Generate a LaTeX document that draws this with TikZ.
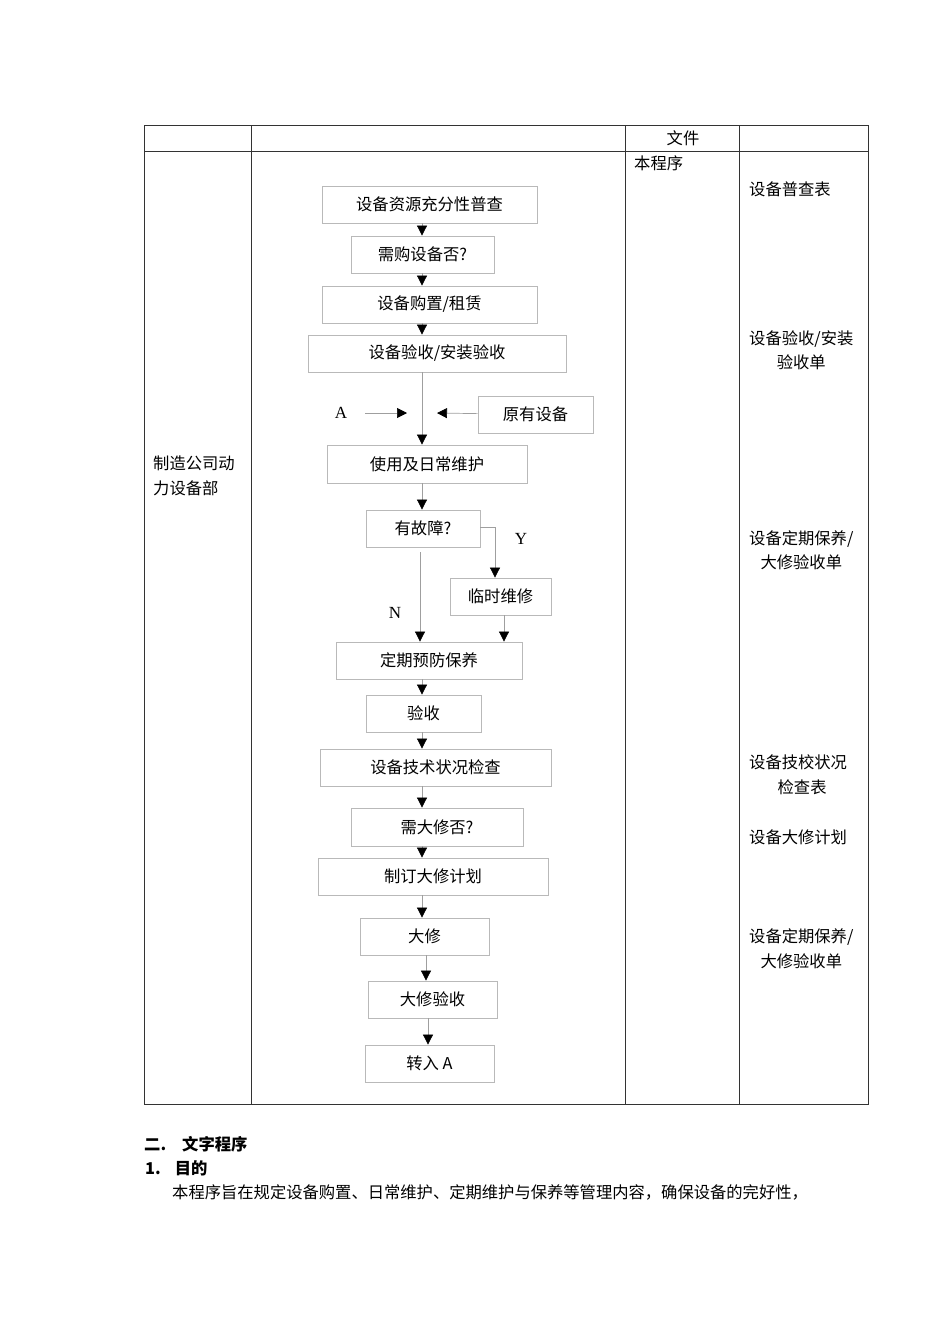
\documentclass[tikz,border=0pt]{standalone}
\usepackage{fontspec}
\setmainfont{Liberation Serif}
\newfontfamily\cjk{Noto Sans CJK SC}
\usetikzlibrary{arrows.meta}

\begin{document}
\begin{tikzpicture}[x=1pt,y=-1pt,
    box/.style={draw=gray!55, line width=0.8pt, inner sep=0pt, minimum height=37pt,
        font=\cjk\fontsize{16.3}{19}\selectfont},
    flow/.style={draw=gray!75, line width=0.7pt, -{Triangle[length=10pt,width=10pt,color=black]}},
    cell/.style={inner sep=0pt, font=\cjk\fontsize{16.3}{24.5}\selectfont},
    lbl/.style={inner sep=0pt, font=\fontsize{17}{19}\selectfont},
    rule/.style={draw=black!80, line width=0.9pt}]
    \useasboundingbox (0,0) rectangle (950,1344);

    % table
    \draw[rule] (144,125) rectangle (868,1104);
    \draw[rule] (144,151) -- (868,151);
    \foreach \x in {251,625,739}
        \draw[rule] (\x,125) -- (\x,1104);

    \node[cell] (hdr) at (683,138) {文件};
    \node[cell, anchor=west] (prog) at (634,163) {本程序};
    \node[cell, anchor=west, align=left] (dept) at (153,476) {制造公司动\\力设备部};

    \node[cell, anchor=west] (doc1) at (749,189) {设备普查表};
    \node[cell, anchor=west, align=center] (doc2) at (749,350.5) {设备验收/安装\\验收单};
    \node[cell, anchor=west, align=center] (doc3) at (749,550) {设备定期保养/\\大修验收单};
    \node[cell, anchor=west, align=center] (doc4) at (749,774.5) {设备技校状况\\\hspace{8pt}检查表};
    \node[cell, anchor=west] (doc5) at (749,837) {设备大修计划};
    \node[cell, anchor=west, align=center] (doc6) at (749,948.5) {设备定期保养/\\大修验收单};

    % flow boxes
    \node[box, minimum width=215pt] (b1) at (429.5,204.5) {设备资源充分性普查};
    \node[box, minimum width=143pt] (b2) at (422.5,254.5) {需购设备否?};
    \node[box, minimum width=215pt] (b3) at (429.5,304.5) {设备购置/租赁};
    \node[box, minimum width=258pt] (b4) at (437,353.5) {设备验收/安装验收};
    \node[box, minimum width=115pt] (old) at (535.5,414.5) {原有设备};
    \node[box, minimum width=200pt, minimum height=38pt] (b5) at (427,464) {使用及日常维护};
    \node[box, minimum width=114pt] (b6) at (423,528.5) {有故障?};
    \node[box, minimum width=101pt] (b7) at (500.5,596.5) {临时维修};
    \node[box, minimum width=186pt] (b8) at (429,660.5) {定期预防保养};
    \node[box, minimum width=115pt] (b9) at (423.5,713.5) {验收};
    \node[box, minimum width=231pt] (b10) at (435.5,767.5) {设备技术状况检查};
    \node[box, minimum width=172pt, minimum height=38pt] (b11) at (437,827) {需大修否?};
    \node[box, minimum width=230pt] (b12) at (433,876.5) {制订大修计划};
    \node[box, minimum width=129pt] (b13) at (424.5,936.5) {大修};
    \node[box, minimum width=129pt] (b14) at (432.5,999.5) {大修验收};
    \node[box, minimum width=129pt] (b15) at (429.5,1063.5) {{\cjk 转入} A};

    \node[lbl] (lblA) at (341,413) {A};
    \node[lbl] (lblY) at (521,539) {Y};
    \node[lbl] (lblN) at (395,613) {N};

    % connectors
    \coordinate (axis) at (422,0);
    \coordinate (axisB) at (426,0);
    \coordinate (axisC) at (428,0);
    \coordinate (yx) at (495,0);
    \coordinate (nx) at (420,0);
    \coordinate (rx) at (504,0);
    \coordinate (mergeL) at (407,413);
    \coordinate (mergeR) at (437,413);

    \draw[flow] (b1.south -| axis) -- (b2.north -| axis);
    \draw[flow] (b2.south -| axis) -- (b3.north -| axis);
    \draw[flow] (b3.south -| axis) -- (b4.north -| axis);
    \draw[flow] (b4.south -| axis) -- (b5.north -| axis);
    \draw[flow, shorten <=18pt] (lblA) -- (mergeL);
    \draw[flow] (old) -- (mergeR);
    \draw[flow] (b5.south -| axis) -- (b6.north -| axis);
    \draw[flow] ([yshift=1.5pt]b6.east) -| (b7.north -| yx);
    \draw[flow, shorten <=5pt] (b6.south -| nx) -- (b8.north -| nx);
    \draw[flow] (b7.south -| rx) -- (b8.north -| rx);
    \draw[flow] (b8.south -| axis) -- (b9.north -| axis);
    \draw[flow] (b9.south -| axis) -- (b10.north -| axis);
    \draw[flow] (b10.south -| axis) -- (b11.north -| axis);
    \draw[flow] (b11.south -| axis) -- (b12.north -| axis);
    \draw[flow] (b12.south -| axis) -- (b13.north -| axis);
    \draw[flow] (b13.south -| axisB) -- (b14.north -| axisB);
    \draw[flow] (b14.south -| axisC) -- (b15.north -| axisC);

    % text below the table
    \node[anchor=west, inner sep=0pt, font=\cjk\bfseries\fontsize{16.3}{19}\selectfont] (sec) at (144,1144) {二.\hspace{16pt}文字程序};
    \node[anchor=west, inner sep=0pt, font=\cjk\bfseries\fontsize{16.3}{19}\selectfont] (item) at (145,1168) {1.\hspace{14pt}目的};
    \node[anchor=west, inner sep=0pt, font=\cjk\fontsize{16.3}{19}\selectfont] (body) at (172,1192) {本程序旨在规定设备购置、日常维护、定期维护与保养等管理内容，确保设备的完好性，};
\end{tikzpicture}
\end{document}
